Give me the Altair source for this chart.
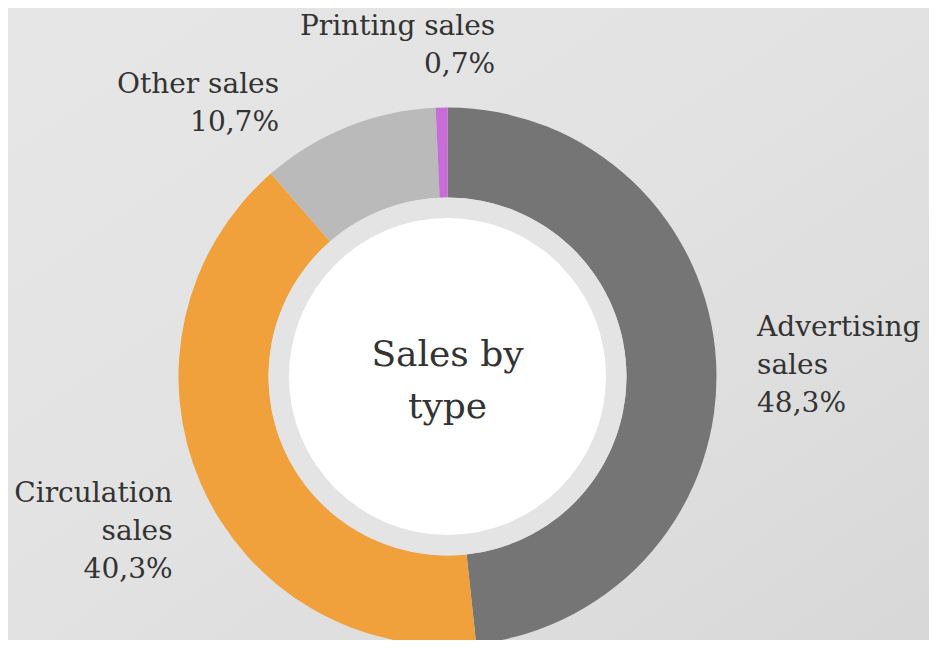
import altair as alt
import pandas as pd
import math

categories = ["Advertising sales", "Circulation sales", "Other sales", "Printing sales"]
label_lines = [["Advertising", "sales"], ["Circulation", "sales"], ["Other sales"], ["Printing sales"]]
values = [48.3, 40.3, 10.7, 0.7]
colors = ["#757575", "#F0A13C", "#BABABA", "#C86DD7"]
center_title = ["Sales by", "type"]

df = pd.DataFrame({
    "category": categories,
    "value": values,
    "order": list(range(len(categories))),
    "label": ["\n".join(l + [f"{v:.1f}".replace(".", ",") + "%"]) for l, v in zip(label_lines, values)],
})

W, H = 921, 632
CX, CY = 439.5, 368.5
FONT = "DejaVu Serif"
TXT = "#333333"

bg = alt.Chart(alt.Data(values=[{}])).mark_rect(
    fill=alt.Gradient(
        gradient="linear", x1=0, y1=0, x2=1, y2=1,
        stops=[alt.GradientStop(color="#E6E6E6", offset=0),
               alt.GradientStop(color="#E2E2E2", offset=0.5),
               alt.GradientStop(color="#D8D8D8", offset=1)],
    )
).encode(x=alt.value(0), x2=alt.value(W), y=alt.value(0), y2=alt.value(H))

donut = alt.Chart(df).mark_arc(outerRadius=269, innerRadius=179).encode(
    theta=alt.Theta("value:Q", stack=True),
    color=alt.Color("category:N", scale=alt.Scale(domain=categories, range=colors), legend=None),
    order=alt.Order("order:Q"),
    x=alt.value(CX), y=alt.value(CY),
)

ring = alt.Chart(alt.Data(values=[{}])).mark_arc(
    theta=0, theta2=2 * math.pi, radius=179, color="#E4E4E4"
).encode(x=alt.value(CX), y=alt.value(CY))
hole = alt.Chart(alt.Data(values=[{}])).mark_arc(
    theta=0, theta2=2 * math.pi, radius=158.5, color="#FFFFFF"
).encode(x=alt.value(CX), y=alt.value(CY))

# per-label placement: (radius, align, dx, dy)
placement = {
    "Advertising sales": (310, "left", 0, -32),
    "Circulation sales": (300, "right", 0, -3),
    "Other sales": (295, "right", -59, -18),
    "Printing sales": (333, "right", 55, -17),
}

label_layers = []
for cat in categories:
    r, al, dx, dy = placement[cat]
    lay = alt.Chart(df).transform_window(
        cum="sum(value)", sort=[alt.SortField("order")], frame=[None, 0]
    ).transform_calculate(
        mid="datum.cum - datum.value / 2"
    ).transform_filter(
        alt.datum.category == cat
    ).mark_text(
        radius=r, align=al, baseline="middle", dx=dx, dy=dy, lineBreak="\n",
        font=FONT, fontSize=28, lineHeight=38, color=TXT,
    ).encode(
        theta=alt.Theta("mid:Q", stack=False),
        text="label:N",
        x=alt.value(CX), y=alt.value(CY),
    )
    label_layers.append(lay)

center = alt.Chart(alt.Data(values=[{}])).mark_text(
    font=FONT, fontSize=36, lineHeight=52, color=TXT, align="center", baseline="middle"
).encode(text=alt.value(center_title), x=alt.value(CX), y=alt.value(CY - 22))

chart = alt.layer(bg, donut, ring, hole, *label_layers, center).properties(
    width=W, height=H, padding=0,
    autosize=alt.AutoSizeParams(type="fit", contains="padding"),
    background="#E2E2E2",
).configure_view(stroke=None)

chart.save("out.html", embed_options={"renderer": "svg", "actions": False})
